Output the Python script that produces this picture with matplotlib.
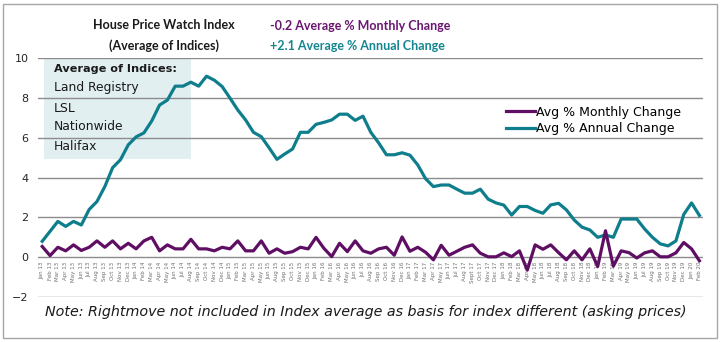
import matplotlib
matplotlib.use('Agg')
import matplotlib.pyplot as plt
from matplotlib.patches import Rectangle

months = [
    'Jan 13', 'Feb 13', 'Mar 13', 'Apr 13', 'May 13', 'Jun 13', 'Jul 13', 'Aug 13', 'Sep 13', 'Oct 13', 'Nov 13', 'Dec 13',
    'Jan 14', 'Feb 14', 'Mar 14', 'Apr 14', 'May 14', 'Jun 14', 'Jul 14', 'Aug 14', 'Sep 14', 'Oct 14', 'Nov 14', 'Dec 14',
    'Jan 15', 'Feb 15', 'Mar 15', 'Apr 15', 'May 15', 'Jun 15', 'Aug 15', 'Sep 15', 'Oct 15', 'Nov 15', 'Dec 15',
    'Jan 16', 'Feb 16', 'Mar 16', 'Apr 16', 'May 16', 'Jun 16', 'Jul 16', 'Aug 16', 'Sep 16', 'Oct 16', 'Nov 16', 'Dec 16',
    'Jan 17', 'Feb 17', 'Mar 17', 'Apr 17', 'May 17', 'Jun 17', 'Jul 17', 'Aug 17', 'Sept 17', 'Oct 17', 'Nov 17', 'Dec 17',
    'Jan 18', 'Feb 18', 'Mar 18', 'Apr 18', 'May 18', 'Jun 18', 'Jul 18', 'Aug 18', 'Sep 18', 'Oct 18', 'Nov 18', 'Dec 18',
    'Jan 19', 'Feb 19', 'Mar 19', 'Apr 19', 'May 19', 'Jun 19', 'Jul 19', 'Aug 19', 'Sep 19', 'Oct 19', 'Nov 19', 'Dec 19',
    'Jan 20', 'Feb 20',
]

monthly_change = [
    0.54, 0.08, 0.50, 0.32, 0.62, 0.34, 0.50, 0.82, 0.50, 0.82, 0.42, 0.70,
    0.42, 0.82, 1.00, 0.32, 0.62, 0.42, 0.42, 0.90, 0.42, 0.42, 0.32, 0.50,
    0.42, 0.82, 0.32, 0.32, 0.82, 0.20, 0.42, 0.20, 0.28, 0.50, 0.42,
    1.00, 0.45, 0.03, 0.70, 0.28, 0.82, 0.32, 0.20, 0.42, 0.50, 0.10, 1.02,
    0.30, 0.50, 0.25, -0.13, 0.60, 0.10, 0.30, 0.50, 0.62, 0.20, 0.02, 0.02,
    0.22, 0.03, 0.32, -0.65, 0.62, 0.40, 0.62, 0.23, -0.13, 0.32, -0.13, 0.42,
    -0.47, 1.33, -0.45, 0.32, 0.23, -0.04, 0.22, 0.32, 0.02, 0.02, 0.22, 0.74,
    0.42, -0.18,
]

annual_change = [
    0.80, 1.30, 1.80, 1.55, 1.80, 1.62, 2.40, 2.80, 3.55, 4.50, 4.90, 5.65,
    6.05, 6.25, 6.85, 7.65, 7.90, 8.60, 8.60, 8.80, 8.60, 9.10, 8.90, 8.58,
    8.00, 7.40, 6.90, 6.28, 6.06, 5.50, 4.92, 5.19, 5.44, 6.28, 6.28,
    6.68, 6.78, 6.90, 7.19, 7.19, 6.88, 7.09, 6.28, 5.75, 5.15, 5.15, 5.25,
    5.13, 4.64, 3.95, 3.55, 3.63, 3.63, 3.42, 3.22, 3.22, 3.42, 2.92, 2.73,
    2.62, 2.12, 2.55, 2.55, 2.35, 2.21, 2.63, 2.71, 2.38, 1.87, 1.51, 1.37,
    1.00, 1.12, 1.00, 1.92, 1.92, 1.92, 1.42, 1.00, 0.67, 0.57, 0.82, 2.15,
    2.73, 2.10,
]

y_ticks = [-2, 0, 2, 4, 6, 8, 10]
box_lines = ['Average of Indices:', 'Land Registry', 'LSL', 'Nationwide', 'Halifax']

PURPLE = '#5f0f63'
TEAL = '#0e7e8c'

plt.rcParams['font.family'] = ['DejaVu Sans']
TITLE_FONT = ['Lato', 'DejaVu Sans']

W, H = 722, 342
fig = plt.figure(figsize=(W / 100, H / 100), dpi=100)

def fx(px):
    return px / W

def fy(py):
    return 1 - py / H

# info box behind the axes
fig.patches.append(Rectangle((fx(44), fy(159)), fx(191) - fx(44), fy(58) - fy(159),
                             transform=fig.transFigure, facecolor='#e2eff1',
                             edgecolor='none', zorder=0))
# outer border
fig.patches.append(Rectangle((fx(3), fy(338)), fx(717) - fx(3), fy(4) - fy(338),
                             transform=fig.transFigure, facecolor='none',
                             edgecolor='#a6a6a6', lw=1.0, zorder=0))

ax = fig.add_axes([fx(38.3), fy(297), fx(703.3) - fx(38.3), fy(58.3) - fy(297)])
ax.set_facecolor('none')
ax.set_zorder(2)

x = list(range(len(months)))
ax.plot(x, annual_change, color=TEAL, lw=2.3, zorder=3, label='Avg % Annual Change')
ax.plot(x, monthly_change, color=PURPLE, lw=2.3, zorder=4, label='Avg % Monthly Change')

ax.set_xlim(-0.5, len(months) - 0.5)
ax.set_ylim(-2, 10)
ax.set_yticks(y_ticks)
ax.yaxis.grid(True, color='#8c8c8c', lw=1.0)
ax.set_axisbelow(True)

for s in ['left', 'right', 'top']:
    ax.spines[s].set_visible(False)
ax.spines['bottom'].set_position(('data', 0))
ax.spines['bottom'].set_color('none')

ax.set_xticks(x)
ax.set_xticklabels(months, rotation=90, fontsize=4.0, color='#6f6f6f')
ax.tick_params(axis='x', length=0, pad=3)
ax.tick_params(axis='y', length=0, pad=7, labelsize=8, labelcolor='#262626')

handles, labels = ax.get_legend_handles_labels()
leg = fig.legend(handles[::-1], labels[::-1], loc='upper left',
                 bbox_to_anchor=(fx(497), fy(97)), frameon=False, fontsize=9.0,
                 handlelength=2.3, handletextpad=0.1, labelspacing=0.25,
                 borderpad=0.2)
leg.set_zorder(5)

# titles
fig.text(fx(164), fy(25), 'House Price Watch Index', ha='center', va='center',
         fontsize=9.0, fontweight='bold', color='#1a1a1a', family=TITLE_FONT)
fig.text(fx(164), fy(46), '(Average of Indices)', ha='center', va='center',
         fontsize=9.0, fontweight='bold', color='#1a1a1a', family=TITLE_FONT)
fig.text(fx(270), fy(26), '-0.2 Average % Monthly Change', ha='left', va='center',
         fontsize=9.0, fontweight='bold', color='#6a1670', family=TITLE_FONT)
fig.text(fx(270), fy(46), '+2.1 Average % Annual Change', ha='left', va='center',
         fontsize=9.0, fontweight='bold', color='#13868f', family=TITLE_FONT)

# info box text
ys = [69, 88, 108, 127, 147]
for i, (t, yy) in enumerate(zip(box_lines, ys)):
    fig.text(fx(54), fy(yy), t, ha='left', va='center',
             fontsize=8.1 if i == 0 else 8.9,
             fontweight='bold' if i == 0 else 'normal', color='#1a1a1a')

fig.text(fx(45), fy(312), 'Note: Rightmove not included in Index average as basis for index different (asking prices)',
         ha='left', va='center', fontsize=10.3, style='italic', color='#1a1a1a')

fig.savefig('out.png', dpi=100)
